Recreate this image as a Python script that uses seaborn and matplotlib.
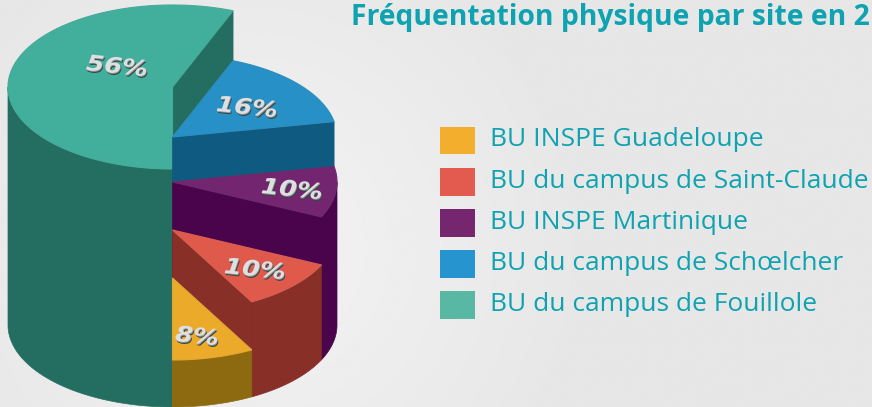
import numpy as np
import matplotlib
matplotlib.use('Agg')
import matplotlib.pyplot as plt
import matplotlib.patheffects as pe
from matplotlib.colors import to_rgb
from matplotlib.legend_handler import HandlerPatch
from matplotlib.patches import Patch, Rectangle
from matplotlib.transforms import Affine2D
import seaborn as sns

# slices, in drawing order from the front going round anticlockwise
sites = ['BU INSPE Guadeloupe', 'BU du campus de Saint-Claude', 'BU INSPE Martinique',
         'BU du campus de Schœlcher', 'BU du campus de Fouillole']
shares = [8, 10, 10, 16, 56]
top_colors = ['#ecaa2b', '#e05a4c', '#74256f', '#2790c6', '#42af9d']
side_colors = ['#8d6a10', '#882f28', '#4a044c', '#0f5a80', '#236e60']
legend_colors = ['#f3ae2d', '#e35a4f', '#75266f', '#2695cf', '#58b8a4']
title = 'Fréquentation physique par site en 2'

# each slice sits on its own step, pixel y of the apex
apex_y = [278, 230, 182, 137, 87]
label_pos = [(197, 337), (255, 270), (292, 190), (247, 108), (117, 67)]

cx, rx, ry, base_y = 172.5, 164.5, 82, 325

sns.set_theme(style='white')
plt.rcParams['font.family'] = ['Open Sans', 'DejaVu Sans']
teal = '#0fa3b1'


class TiltedLayer(pe.AbstractPathEffect):
    # one layer of the bevelled label, stretched and tilted round its own centre
    def __init__(self, color, dx=0, dy=0):
        super().__init__()
        self.color, self.dx, self.dy = to_rgb(color), dx, dy

    def draw_path(self, renderer, gc, tpath, affine, rgbFace=None):
        box = tpath.get_extents()
        mx, my = (box.x0 + box.x1) / 2, (box.y0 + box.y1) / 2
        warp = Affine2D().translate(-mx, -my).scale(1.28, 1.08).rotate_deg(-6).translate(mx, my)
        shift = Affine2D().translate(self.dx, self.dy)
        renderer.draw_path(gc, tpath, warp + affine + shift, self.color)


def low_swatch(legend, orig_handle, xdescent, ydescent, width, height, fontsize):
    # swatches sit a little under the text line
    return Rectangle((-xdescent, -ydescent - 2.2), width, height)


fig, ax = plt.subplots(figsize=(8.72, 4.07), dpi=100)
ax.set_position([0, 0, 1, 1])
ax.set_xlim(0, 872)
ax.set_ylim(407, 0)
ax.axis('off')

# soft light behind the pie
yy, xx = np.mgrid[0:407:4j * 50, 0:872:4j * 100]
d = np.hypot(xx - 250, yy - 250)
bg = 0.955 - 0.05 * np.clip(d / 330, 0, 1)
ax.imshow(bg, cmap='gray', vmin=0, vmax=1, extent=(0, 872, 407, 0), aspect='auto', zorder=0)


def rim(theta, y0):
    # theta in radians, 0 at the front, growing towards the right
    return cx + rx * np.sin(theta), y0 + ry * np.cos(theta)


edges = np.radians(np.cumsum([0] + shares) * 3.6)
order = range(len(shares) - 1, -1, -1)
for i in order:
    a, b, y0 = edges[i], edges[i + 1], apex_y[i]
    z = 2 + len(shares) - i
    # radial wall, on the edge facing the viewer
    x1, y1 = rim(a, y0)
    x2, y2 = rim(a, base_y)
    ax.fill([cx, x1, x2, cx], [y0, y1, y2, base_y], color=side_colors[i], lw=0.5, zorder=z)
    # outer skin, only the part turned to the viewer
    spans = [(a, min(b, np.pi / 2))] if a < np.pi / 2 else []
    if b > 1.5 * np.pi:
        spans.append((max(a, 1.5 * np.pi), b))
    for s, e in spans:
        t = np.linspace(s, e, 120)
        xt, yt = rim(t, y0)
        xb, yb = rim(t[::-1], base_y)
        ax.fill(np.r_[xt, xb], np.r_[yt, yb], color=side_colors[i], lw=0.5, zorder=z)
    # top face
    t = np.linspace(a, b, 240)
    xt, yt = rim(t, y0)
    ax.fill(np.r_[cx, xt], np.r_[y0, yt], facecolor=top_colors[i],
            edgecolor=sns.desaturate(top_colors[i], 0.9), lw=0.8, zorder=z)

for v, (x, y) in zip(shares, label_pos):
    ax.text(x, y, f'{v}%', ha='center', va='center', fontsize=14.5, color='#dcdcdc',
            family='DejaVu Sans', style='italic', weight='bold', zorder=20,
            path_effects=[TiltedLayer('#34423f', 1.2, -2), TiltedLayer('#8c8f90', 0.6, -1),
                          TiltedLayer('#dedfe0')])

ax.text(351, 18, title, fontsize=20.3, weight='bold', color=teal, ha='left', va='center', zorder=20)

handles = [Patch(facecolor=c, edgecolor='none') for c in legend_colors]
fs = 19
px = fs * 100 / 72
ax.legend(handles, sites, loc='upper left', bbox_to_anchor=(440, 123.5), bbox_transform=ax.transData,
          frameon=False, fontsize=fs, labelcolor=teal, borderpad=0, borderaxespad=0,
          handlelength=35 / px, handleheight=33 / px, handletextpad=15 / px, labelspacing=12.4 / px,
          handler_map={Patch: HandlerPatch(patch_func=low_swatch)})

fig.savefig('out.png', dpi=100)
